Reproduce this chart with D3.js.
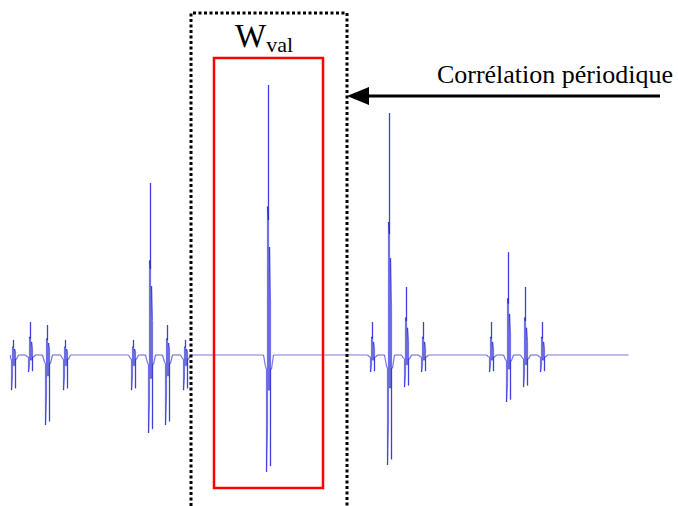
<!DOCTYPE html>
<html>
<head>
<meta charset="utf-8">
<script src="https://cdn.jsdelivr.net/npm/d3@7/dist/d3.min.js"></script>
<style>
  html, body { margin: 0; padding: 0; background: #ffffff; }
  svg { display: block; }
  .serif { font-family: "Liberation Serif", "Times New Roman", Times, serif; }
</style>
</head>
<body>
<svg id="chart" width="678" height="506"></svg>
<script>
// ---- data ----
// sample positions of each correlation burst (sample index)
const eventPos  = [3, 20, 37, 55,  123, 140, 157, 175,  258,  362, 379, 396, 413,  481, 498, 515, 532];
// positive peak amplitude of each burst (normalised, main peak = 1)
const eventUp   = [0.056, 0.122, 0.111, 0.056,  0.056, 0.637, 0.111, 0.056,  1.0,  0.122, 0.896, 0.252, 0.122,  0.122, 0.381, 0.252, 0.122];
// negative peak amplitude of each burst
const eventDown = [-0.13, -0.063, -0.259, -0.13,  -0.13, -0.289, -0.259, -0.13,  -0.433,  -0.063, -0.407, -0.119, -0.063,  -0.063, -0.174, -0.119, -0.063];
const sampleRange = [0, 618];
const ampRange = [-0.45, 1.0];
const labelWindow = "W";
const labelWindowSub = "val";
const labelArrow = "Corrélation périodique";

// ---- drawing ----
const svg = d3.select("#chart");
const x = d3.scaleLinear().domain(sampleRange).range([10.5, 628.5]);
const y = d3.scaleLinear().domain(ampRange).range([476.5, 85]);

// local wavelet outline used to draw each burst: [offset, side, fraction]
const shape = [
  [-5,'d',0], [-3,'d',0.1], [-2,'d',0.12], [-2,'d',1], [-1,'d',0.6],
  [-1,'u',0.55], [0,'u',0.5], [0,'u',1], [0,'d',0.3], [1,'d',0.3],
  [1,'u',0.4], [2,'u',0.2], [2,'d',0.95], [2,'d',0.12], [3,'d',0.12], [5,'d',0]
];

const pts = [[sampleRange[0], 0]];
eventPos.forEach((p, i) => {
  shape.forEach(([dx, side, f]) => {
    const v = side === 'u' ? f * eventUp[i] : f * eventDown[i];
    const px = Math.max(sampleRange[0], p + dx);
    pts.push([px, v]);
  });
});
pts.push([sampleRange[1], 0]);

const segs = d3.pairs(pts);
svg.append("g").selectAll("line").data(segs).join("line")
  .attr("x1", d => x(d[0][0])).attr("y1", d => y(d[0][1]))
  .attr("x2", d => x(d[1][0])).attr("y2", d => y(d[1][1]))
  .attr("stroke", "#1414d2")
  .attr("stroke-opacity", 0.58)
  .attr("stroke-width", 1.2)
  .attr("stroke-linecap", "butt");

// dotted window
svg.append("path")
  .attr("d", "M191,506V13H347V506")
  .attr("fill", "none")
  .attr("stroke", "#000")
  .attr("stroke-width", 3)
  .attr("stroke-dasharray", "3,2.5");

// red window
svg.append("rect")
  .attr("x", 214).attr("y", 58).attr("width", 109).attr("height", 430)
  .attr("fill", "none").attr("stroke", "#ff0000").attr("stroke-width", 2.5);

// W_val label
const t = svg.append("text")
  .attr("class", "serif")
  .attr("x", 235).attr("y", 47)
  .attr("font-size", 33).attr("fill", "#000");
t.append("tspan").text(labelWindow);
t.append("tspan").attr("font-size", 22).attr("dy", 5).text(labelWindowSub);

// arrow
svg.append("line")
  .attr("x1", 660).attr("y1", 96).attr("x2", 365).attr("y2", 96)
  .attr("stroke", "#000").attr("stroke-width", 3);
svg.append("path")
  .attr("d", "M347,96L369,87L369,105Z")
  .attr("fill", "#000");

svg.append("text")
  .attr("class", "serif")
  .attr("x", 673).attr("y", 83)
  .attr("text-anchor", "end")
  .attr("font-size", 26).attr("fill", "#000")
  .text(labelArrow);
</script>
</body>
</html>
